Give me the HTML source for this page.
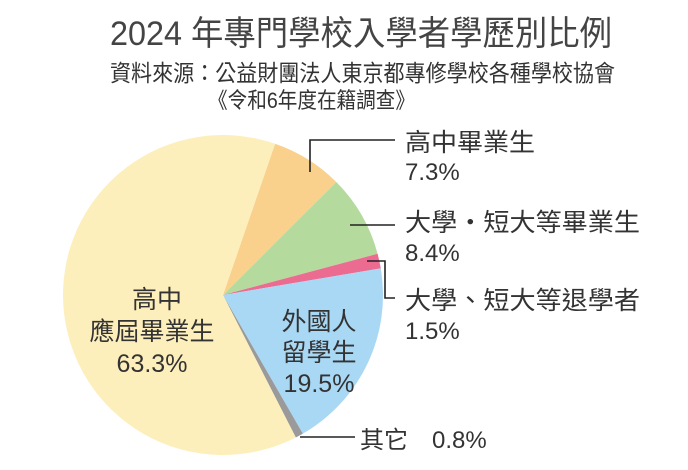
<!DOCTYPE html>
<html><head><meta charset="utf-8"><style>
html,body{margin:0;padding:0;background:#fff;}
svg{display:block;}
text{font-family:"Liberation Sans","Noto Sans CJK TC",sans-serif;fill:#333;}
</style></head><body>
<svg width="688" height="470" viewBox="0 0 688 470" xmlns="http://www.w3.org/2000/svg">
<text x="110" y="45" font-size="34" textLength="502" lengthAdjust="spacingAndGlyphs" style="fill:#444">2024 年專門學校入學者學歷別比例</text>
<text x="110" y="81" font-size="23" textLength="505" lengthAdjust="spacingAndGlyphs">資料來源：公益財團法人東京都專修學校各種學校協會</text>
<text x="208" y="108" font-size="22" textLength="207" lengthAdjust="spacingAndGlyphs">《令和6年度在籍調查》</text>
<g id="pie"></g>
<g stroke="#222" stroke-width="1.6" fill="none">
<polyline points="310,172 310,140 395,140"/>
<polyline points="350,225 395,225"/>
<polyline points="367,261 385,261 385,298 395,298"/>
<polyline points="300,437 355,437"/>
</g>
<text x="405" y="151" font-size="25" textLength="130" lengthAdjust="spacingAndGlyphs">高中畢業生</text>
<text x="405" y="180" font-size="24">7.3%</text>
<text x="405" y="231" font-size="25" textLength="235" lengthAdjust="spacingAndGlyphs">大學・短大等畢業生</text>
<text x="405" y="261" font-size="24">8.4%</text>
<text x="405" y="309" font-size="25" textLength="235" lengthAdjust="spacingAndGlyphs">大學、短大等退學者</text>
<text x="405" y="339" font-size="24">1.5%</text>
<text x="360" y="448" font-size="24">其它</text>
<text x="432" y="448" font-size="24">0.8%</text>
<text x="157" y="308" font-size="25" text-anchor="middle">高中</text>
<text x="152" y="340" font-size="25" text-anchor="middle">應屆畢業生</text>
<text x="152" y="372" font-size="25" text-anchor="middle">63.3%</text>
<text x="319" y="330" font-size="25" text-anchor="middle">外國人</text>
<text x="319" y="361" font-size="25" text-anchor="middle">留學生</text>
<text x="319" y="392" font-size="25" text-anchor="middle">19.5%</text>
</svg>
<script>
(function(){
var cx=223,cy=295,r=160,start=19;
var d=[[7.3,"#f9d18c"],[8.4,"#b5da9e"],[1.5,"#ec6b91"],[19.5,"#a9d8f5"],[0.8,"#9a9a9a"],[63.3,"#fdefbb"]];
var g=document.getElementById("pie"),a=start,ns="http://www.w3.org/2000/svg";
function pt(t){var rad=(t-90)*Math.PI/180;return [cx+r*Math.cos(rad),cy+r*Math.sin(rad)];}
var tot=0;d.forEach(function(x){tot+=x[0];});
d.forEach(function(x){var sw=x[0]/tot*360,p1=pt(a),p2=pt(a+sw);
var p=document.createElementNS(ns,"path");
p.setAttribute("d","M"+cx+","+cy+"L"+p1[0]+","+p1[1]+"A"+r+","+r+" 0 "+(sw>180?1:0)+" 1 "+p2[0]+","+p2[1]+"Z");
p.setAttribute("fill",x[1]);g.appendChild(p);a+=sw;});
})();
</script>
</body></html>
